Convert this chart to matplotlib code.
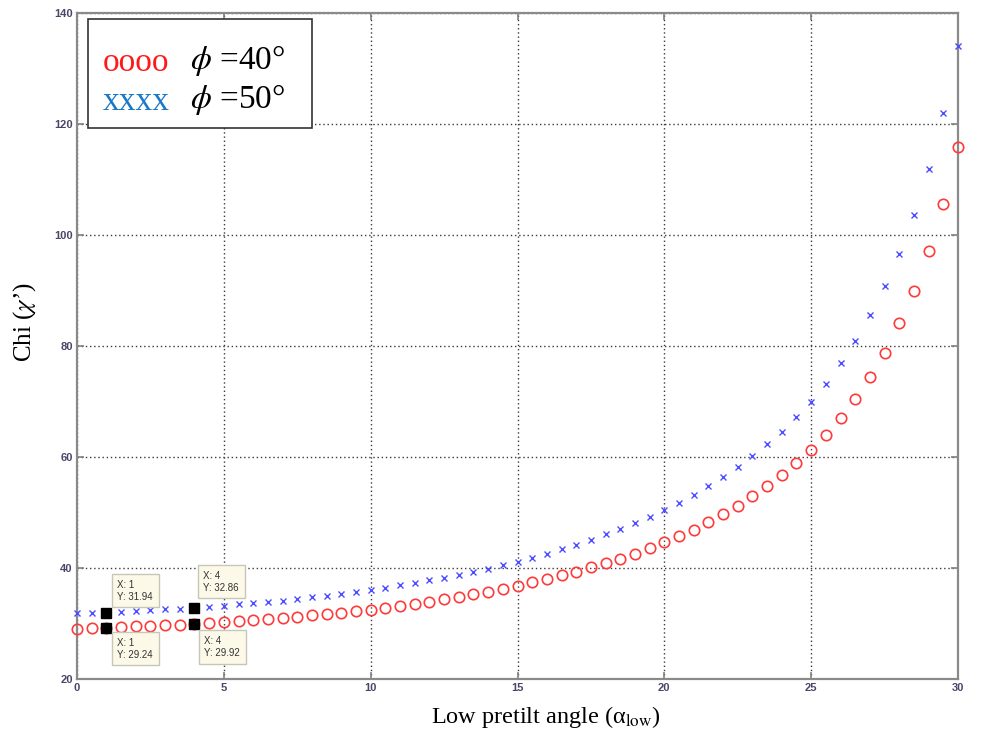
import matplotlib
matplotlib.use("Agg")
import matplotlib.pyplot as plt
from matplotlib.patches import Rectangle

plt.rcParams['mathtext.fontset'] = 'stix'

# ---- data ----
alpha_low = [0, 0.5, 1, 1.5, 2, 2.5, 3, 3.5, 4, 4.5, 5, 5.5, 6, 6.5, 7, 7.5, 8, 8.5, 9, 9.5,
             10, 10.5, 11, 11.5, 12, 12.5, 13, 13.5, 14, 14.5, 15, 15.5, 16, 16.5, 17, 17.5,
             18, 18.5, 19, 19.5, 20, 20.5, 21, 21.5, 22, 22.5, 23, 23.5, 24, 24.5, 25, 25.5,
             26, 26.5, 27, 27.5, 28, 28.5, 29, 29.5, 30]

chi_phi40 = [29.05, 29.12, 29.24, 29.35, 29.46, 29.56, 29.67, 29.79, 29.92, 30.06,
             30.21, 30.37, 30.54, 30.72, 31.0, 31.2, 31.45, 31.7, 31.95, 32.2,
             32.5, 32.85, 33.2, 33.55, 33.95, 34.35, 34.8, 35.25, 35.75, 36.25,
             36.8, 37.4, 38.0, 38.65, 39.35, 40.1, 40.85, 41.7, 42.6, 43.55,
             44.6, 45.7, 46.9, 48.2, 49.7, 51.2, 52.9, 54.7, 56.7, 58.9,
             61.3, 64.0, 67.1, 70.5, 74.4, 78.8, 84.1, 90.0, 97.2, 105.6, 116.0]

chi_phi50 = [31.8, 31.85, 31.94, 32.08, 32.22, 32.37, 32.52, 32.69, 32.86, 33.04,
             33.23, 33.43, 33.64, 33.86, 34.1, 34.4, 34.7, 35.0, 35.35, 35.7,
             36.05, 36.45, 36.85, 37.3, 37.75, 38.25, 38.75, 39.3, 39.85, 40.45,
             41.1, 41.8, 42.55, 43.35, 44.2, 45.1, 46.05, 47.05, 48.1, 49.25,
             50.5, 51.8, 53.2, 54.7, 56.35, 58.15, 60.15, 62.3, 64.6, 67.2,
             70.0, 73.2, 76.9, 80.9, 85.6, 90.8, 96.7, 103.7, 112.0, 122.0, 134.2]

x_ticks = [0, 5, 10, 15, 20, 25, 30]
y_ticks = [20, 40, 60, 80, 100, 120, 140]

# data tips: (x, y, text, offset in pixels, vertical alignment)
tips = [
    (1, 31.94, "X: 1\nY: 31.94", (11, 11), 'bottom'),
    (1, 29.24, "X: 1\nY: 29.24", (11, -10), 'top'),
    (4, 32.86, "X: 4\nY: 32.86", (9, 15), 'bottom'),
    (4, 29.92, "X: 4\nY: 29.92", (10, -12), 'top'),
]

# ---- figure ----
fig = plt.figure(figsize=(9.85, 7.34), dpi=100)
ax = fig.add_axes([0.0782, 0.0751, 0.8944, 0.9066])

ax.plot(alpha_low, chi_phi40, linestyle='none', marker='o', markersize=7.5,
        markerfacecolor='none', markeredgecolor='#ff3a3a', markeredgewidth=1.2,
        clip_on=False, zorder=3)
ax.plot(alpha_low, chi_phi50, linestyle='none', marker='x', markersize=4,
        color='#4d4dff', markeredgewidth=1.0, clip_on=False, zorder=3)

ax.set_xlim(0, 30)
ax.set_ylim(20, 140)
ax.set_xticks(x_ticks)
ax.set_yticks(y_ticks)

tick_color = '#4a4668'
ax.tick_params(direction='in', length=5, width=1.2, color='#808080',
               top=True, right=True, labelsize=8, labelcolor=tick_color, pad=3)
for lab in ax.get_xticklabels() + ax.get_yticklabels():
    lab.set_fontfamily(['Liberation Sans Narrow', 'Liberation Sans'])
    lab.set_fontweight('bold')

ax.grid(True, linestyle=(0, (1, 2)), color='#3a3a3a', linewidth=1.0, zorder=1)
ax.set_axisbelow(True)
for sp in ax.spines.values():
    sp.set_color('#8a8a8a')
    sp.set_linewidth(1.6)

ax.set_xlabel(r"Low pretilt angle (α$_{\rm low}$)", family='Liberation Serif',
              fontsize=17.5)
ax.xaxis.label.set_verticalalignment('center')
ax.xaxis.set_label_coords(0.532, -0.057)
ax.set_ylabel(r"Chi ($\chi$’)", family='Liberation Serif', fontsize=18)
ax.yaxis.label.set_verticalalignment('center')
ax.yaxis.set_label_coords(-0.059, 0.536)

# ---- data tips ----
for (tx, ty, txt, off, va) in tips:
    ax.plot([tx], [ty], marker='s', color='black', markersize=7, linestyle='none',
            zorder=5)
    ax.annotate(txt, xy=(tx, ty), xytext=off, textcoords='offset pixels',
                ha='left', va=va, fontsize=7, color='#333333',
                family='Liberation Sans', linespacing=1.25,
                bbox=dict(boxstyle='square,pad=0.6', facecolor='#fcf9e8',
                          edgecolor='#c8c6b8', linewidth=1.0),
                zorder=6)

# ---- legend box ----
ax.add_patch(Rectangle((0.0125, 0.8278), 0.2545, 0.1638, transform=ax.transAxes,
                       facecolor='white', edgecolor='#333333', linewidth=1.2,
                       zorder=7))
ax.text(0.029, 0.926, "oooo", transform=ax.transAxes, color='#ff1a1a',
        fontsize=24, family='Liberation Serif', va='center', ha='left', zorder=8)
ax.text(0.029, 0.867, "xxxx", transform=ax.transAxes, color='#1a78c8',
        fontsize=24, family='Liberation Serif', va='center', ha='left', zorder=8)
ax.text(0.128, 0.929, r"$\phi$ =40°", transform=ax.transAxes, color='black',
        fontsize=24, family='Liberation Serif', va='center', ha='left', zorder=8)
ax.text(0.128, 0.870, r"$\phi$ =50°", transform=ax.transAxes, color='black',
        fontsize=24, family='Liberation Serif', va='center', ha='left', zorder=8)

fig.savefig("out.png", dpi=100)
